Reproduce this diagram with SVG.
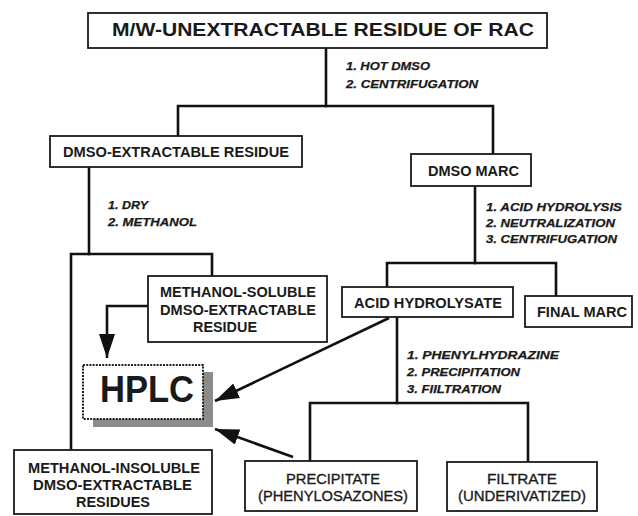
<svg xmlns="http://www.w3.org/2000/svg" width="638" height="516" viewBox="0 0 638 516">
<defs>
<style>
.box{fill:#fff;stroke:#1a1a1a;stroke-width:1.8}
.ln{fill:none;stroke:#111;stroke-width:2.6;stroke-linecap:square}
.ar{fill:none;stroke:#111;stroke-width:2.6;stroke-linecap:butt}
.t{font-family:"Liberation Sans",Arial,sans-serif;font-weight:bold;fill:#1a1a1a}
.n{font-family:"Liberation Sans",Arial,sans-serif;font-weight:normal;fill:#1a1a1a;stroke:#1a1a1a;stroke-width:0.35}
.s{font-family:"Liberation Sans",Arial,sans-serif;font-weight:bold;font-style:italic;font-size:11.5px;fill:#1a1a1a;stroke:#1a1a1a;stroke-width:0.25}
</style>
<marker id="ah" markerUnits="userSpaceOnUse" markerWidth="26" markerHeight="18" refX="24" refY="8" orient="auto">
<path d="M0,0 L24,8 L0,16 z" fill="#111"/>
</marker>
</defs>
<rect width="638" height="516" fill="#fff"/>

<g id="connectors">
<polyline class="ln" points="326,48 326,106"/>
<polyline class="ln" points="178,136 178,106 493,106 493,154"/>
<polyline class="ln" points="89,167 89,254"/>
<polyline class="ln" points="71,450 71,254 212,254 212,276"/>
<polyline class="ln" points="475,186 475,263"/>
<polyline class="ln" points="387,287 387,263 556,263 556,296"/>
<polyline class="ln" points="397,317 397,403"/>
<polyline class="ln" points="310,461 310,403 528,403 528,462"/>
<polyline class="ar" points="148,306 107,306 107,358" marker-end="url(#ah)"/>
<line class="ar" x1="389" y1="318" x2="215" y2="401" marker-end="url(#ah)"/>
<line class="ar" x1="293" y1="457" x2="215" y2="429" marker-end="url(#ah)"/>
</g>

<g id="top">
<rect class="box" x="88" y="13" width="459" height="35" stroke-width="2"/>
<text class="t" x="112" y="36" font-size="18" textLength="422" lengthAdjust="spacingAndGlyphs">M/W-UNEXTRACTABLE  RESIDUE  OF RAC</text>
</g>
<g id="lbl1">
<text class="s" x="346" y="70" textLength="84" lengthAdjust="spacingAndGlyphs">1. HOT DMSO</text>
<text class="s" x="346" y="88" textLength="132" lengthAdjust="spacingAndGlyphs">2. CENTRIFUGATION</text>
</g>
<g id="dmso-extractable">
<rect class="box" x="50" y="136" width="252" height="31"/>
<text class="t" x="63" y="157" font-size="14.5" textLength="226" lengthAdjust="spacingAndGlyphs">DMSO-EXTRACTABLE RESIDUE</text>
</g>
<g id="dmso-marc">
<rect class="box" x="411" y="154" width="120" height="32"/>
<text class="t" x="428" y="176" font-size="14.5" textLength="91" lengthAdjust="spacingAndGlyphs">DMSO MARC</text>
</g>
<g id="lbl2">
<text class="s" x="108" y="209" textLength="40" lengthAdjust="spacingAndGlyphs">1. DRY</text>
<text class="s" x="108" y="226" textLength="89" lengthAdjust="spacingAndGlyphs">2. METHANOL</text>
</g>
<g id="lbl3">
<text class="s" x="486" y="211" textLength="136" lengthAdjust="spacingAndGlyphs">1. ACID HYDROLYSIS</text>
<text class="s" x="486" y="227" textLength="129" lengthAdjust="spacingAndGlyphs">2. NEUTRALIZATION</text>
<text class="s" x="486" y="243" textLength="131" lengthAdjust="spacingAndGlyphs">3. CENTRIFUGATION</text>
</g>
<g id="methanol-soluble">
<rect class="box" x="148" y="276" width="179" height="66"/>
<text class="t" x="160" y="297" font-size="14" textLength="156" lengthAdjust="spacingAndGlyphs">METHANOL-SOLUBLE</text>
<text class="t" x="160" y="315" font-size="14" textLength="156" lengthAdjust="spacingAndGlyphs">DMSO-EXTRACTABLE</text>
<text class="t" x="193" y="332" font-size="14" textLength="64" lengthAdjust="spacingAndGlyphs">RESIDUE</text>
</g>
<g id="acid-hydrolysate">
<rect class="box" x="342" y="287" width="171" height="30"/>
<text class="t" x="354" y="308" font-size="14.5" textLength="148" lengthAdjust="spacingAndGlyphs">ACID HYDROLYSATE</text>
</g>
<g id="final-marc">
<rect class="box" x="525" y="296" width="107" height="31"/>
<text class="t" x="537" y="317" font-size="14.5" textLength="90" lengthAdjust="spacingAndGlyphs">FINAL MARC</text>
</g>
<g id="lbl4">
<text class="s" x="407" y="359" textLength="152" lengthAdjust="spacingAndGlyphs">1. PHENYLHYDRAZINE</text>
<text class="s" x="407" y="376" textLength="113" lengthAdjust="spacingAndGlyphs">2. PRECIPITATION</text>
<text class="s" x="407" y="393" textLength="94" lengthAdjust="spacingAndGlyphs">3. FIILTRATION</text>
</g>
<g id="hplc">
<rect x="93" y="372" width="120" height="55" fill="#8c8c8c"/>
<rect x="83" y="365" width="120" height="54" fill="#fff" stroke="#222" stroke-width="2" stroke-dasharray="2,1.2"/>
<text class="t" x="100" y="402" font-size="37" textLength="94" lengthAdjust="spacingAndGlyphs">HPLC</text>
</g>
<g id="methanol-insoluble">
<rect class="box" x="14" y="450" width="198" height="64"/>
<text class="t" x="28" y="473" font-size="14.5" textLength="172" lengthAdjust="spacingAndGlyphs">METHANOL-INSOLUBLE</text>
<text class="t" x="33" y="490" font-size="14.5" textLength="159" lengthAdjust="spacingAndGlyphs">DMSO-EXTRACTABLE</text>
<text class="t" x="76" y="507" font-size="14.5" textLength="74" lengthAdjust="spacingAndGlyphs">RESIDUES</text>
</g>
<g id="precipitate">
<rect class="box" x="245" y="461" width="172" height="50"/>
<text class="n" x="286" y="484" font-size="15" textLength="94" lengthAdjust="spacingAndGlyphs">PRECIPITATE</text>
<text class="n" x="258" y="501" font-size="15" textLength="150" lengthAdjust="spacingAndGlyphs">(PHENYLOSAZONES)</text>
</g>
<g id="filtrate">
<rect class="box" x="447" y="462" width="150" height="49"/>
<text class="n" x="487" y="484" font-size="15" textLength="70" lengthAdjust="spacingAndGlyphs">FILTRATE</text>
<text class="n" x="458" y="501" font-size="15" textLength="128" lengthAdjust="spacingAndGlyphs">(UNDERIVATIZED)</text>
</g>
</svg>
